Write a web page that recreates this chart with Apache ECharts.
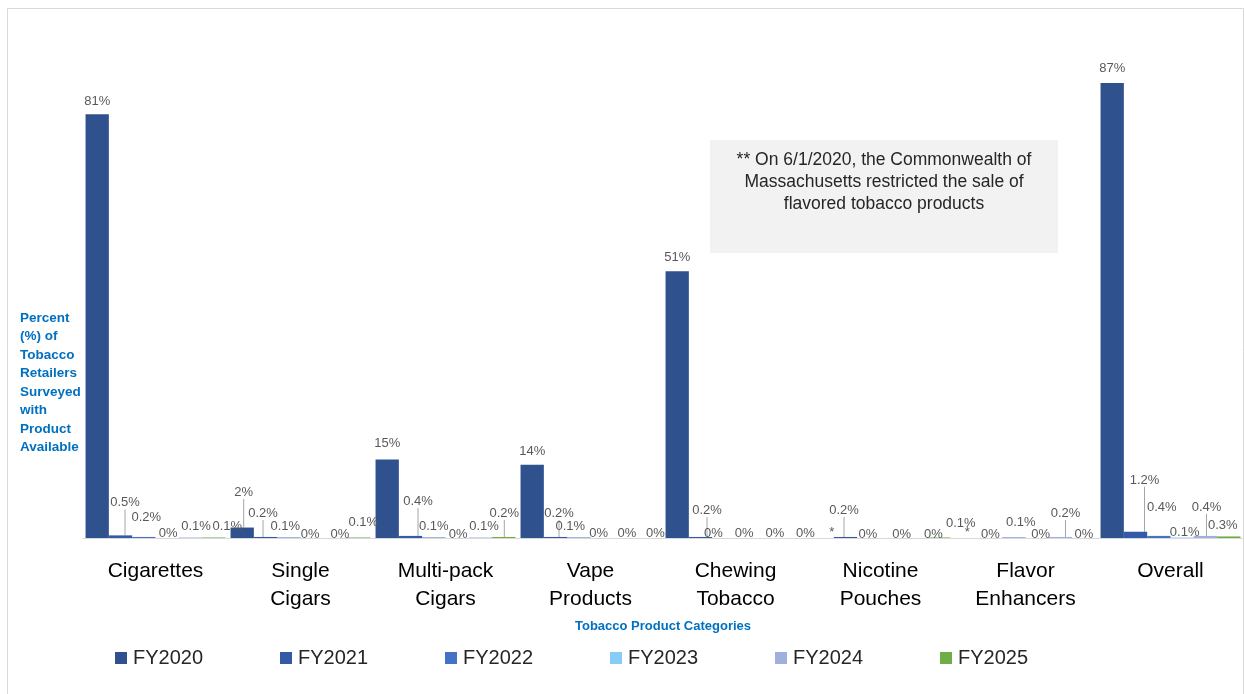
<!DOCTYPE html>
<html>
<head>
<meta charset="utf-8">
<script src="https://cdn.jsdelivr.net/npm/echarts@6/dist/echarts.min.js"></script>
<style>
html,body{margin:0;padding:0;background:#fff;}
#chart{width:1244px;height:694px;}
</style>
</head>
<body>
<div id="chart"></div>
<script>
const categories = ['Cigarettes', 'Single\nCigars', 'Multi-pack\nCigars', 'Vape\nProducts', 'Chewing\nTobacco', 'Nicotine\nPouches', 'Flavor\nEnhancers', 'Overall'];
const seriesNames = ['FY2020', 'FY2021', 'FY2022', 'FY2023', 'FY2024', 'FY2025'];
// '*' = suppressed value shown as asterisk
const fy2020 = [81, 2, 15, 14, 51, '*', '*', 87];
const fy2021 = [0.5, 0.2, 0.4, 0.2, 0.2, 0.2, 0, 1.2];
const fy2022 = [0.2, 0.1, 0.1, 0.1, 0, 0, 0.1, 0.4];
const fy2023 = [0, 0, 0, 0, 0, 0, 0, 0.1];
const fy2024 = [0.1, 0, 0.1, 0, 0, 0, 0.2, 0.4];
const fy2025 = [0.1, 0.1, 0.2, 0, 0, 0.1, 0, 0.3];
const seriesValues = [fy2020, fy2021, fy2022, fy2023, fy2024, fy2025];

const axisTitleY = 'Percent\n(%) of\nTobacco\nRetailers\nSurveyed\nwith\nProduct\nAvailable';
const axisTitleX = 'Tobacco Product Categories';
const noteText = '** On 6/1/2020, the Commonwealth of\nMassachusetts restricted the sale of\nflavored tobacco products';

// styling: colours, label nudges (dx, dy) and leader-line flags
const colors = ['#2F528F', '#3459A6', '#4472C4', '#87CBF8', '#9FB0DC', '#70AD47'];
const labelNudges = [
  [[0,-1],[1.5,-23.5],[0,-4.5],[0,-2],[0,-2],[9.5,6],[0,6],[0,-3]],
  [[4.5,-21],[-2.5,-12],[7.5,-23],[3.5,-12],[6.5,-15],[-1.5,-15],[0,8],[9,-40]],
  [[2.5,-8],[-3.5,0],[0,0],[-8.5,0],[-10.5,7],[-1,8],[7,-3.5],[3,-17]],
  [[1,7],[-2,8],[1,8],[-3.5,7],[-3,7],[9.5,8],[3.5,8],[2.5,6.5]],
  [[5.5,0],[4.5,8],[3.5,0],[1.5,7],[4.5,7],[18,8],[5,-12],[1,-17]],
  [[13.5,0],[4.5,-3.5],[0.5,-12],[6.5,7],[11.5,7],[22,-2.5],[0,8],[-6,0]]
];
const leaderFlags = [
  [0,1,0,0,0,0,0,0],
  [1,1,1,1,1,1,0,1],
  [0,0,0,0,0,0,0,0],
  [0,0,0,0,0,0,0,0],
  [0,0,0,0,0,0,1,1],
  [0,0,1,0,0,0,0,0]
];

const chart = echarts.init(document.getElementById('chart'));

const series = seriesNames.map((name, si) => ({
  name: name,
  type: 'bar',
  barGap: '0%',
  barCategoryGap: '3.5%',
  itemStyle: { color: colors[si] },
  label: {
    show: true,
    position: 'top',
    distance: 5,
    fontSize: 13,
    fontFamily: 'Liberation Sans, Arial, sans-serif',
    color: '#595959',
    formatter: (p) => p.data.star ? '*' : p.value + '%'
  },
  labelLine: { show: false, lineStyle: { color: '#A6A6A6', width: 1 } },
  labelLayout: (p) => {
    const o = labelNudges[si][p.dataIndex];
    return { dx: o[0], dy: o[1] };
  },
  data: seriesValues[si].map((v, ci) => {
    const item = v === '*' ? { value: 0, star: true } : { value: v };
    if (leaderFlags[si][ci]) item.labelLine = { show: true, lineStyle: { color: '#A6A6A6', width: 1 } };
    return item;
  })
}));

const legends = seriesNames.map((name, i) => ({
  data: [name],
  left: 115 + 165 * i,
  top: 648,
  icon: 'rect',
  itemWidth: 12,
  itemHeight: 12,
  itemGap: 0,
  padding: 0,
  textStyle: { fontSize: 20, color: '#262626', fontFamily: 'Liberation Sans Narrow, Liberation Sans, Arial, sans-serif', padding: [0, 0, 0, 1] }
}));

chart.setOption({
  animation: false,
  backgroundColor: '#ffffff',
  grid: { left: 83, right: 1, top: 15, bottom: 156, containLabel: false },
  legend: legends,
  xAxis: {
    type: 'category',
    data: categories,
    axisLine: { lineStyle: { color: '#D9D9D9', width: 1 } },
    axisTick: { show: false },
    axisLabel: { fontSize: 21, lineHeight: 28, color: '#000000', margin: 19, fontFamily: 'Liberation Sans, Arial, sans-serif', interval: 0 }
  },
  yAxis: {
    type: 'value',
    min: 0,
    max: 100,
    show: false,
    splitLine: { show: false }
  },
  graphic: [
    { type: 'rect', shape: { x: 7.5, y: 8.5, width: 1236, height: 700 }, style: { fill: 'none', stroke: '#D9D9D9', lineWidth: 1 }, silent: true },
    { type: 'rect', shape: { x: 710, y: 140, width: 348, height: 113 }, style: { fill: '#F2F2F2' }, z: 10 },
    { type: 'text', x: 884, y: 149, z: 11, style: { text: noteText, fontSize: 17.5, lineHeight: 22, fill: '#262626', align: 'center', verticalAlign: 'top', fontFamily: 'Liberation Sans Narrow, Liberation Sans, Arial, sans-serif' } },
    { type: 'text', x: 20, y: 309, z: 11, style: { text: axisTitleY, fontSize: 13.5, lineHeight: 18.5, fontWeight: 'bold', fill: '#0070C0', align: 'left', verticalAlign: 'top', fontFamily: 'Liberation Sans, Arial, sans-serif' } },
    { type: 'text', x: 663, y: 626, z: 11, style: { text: axisTitleX, fontSize: 13, fontWeight: 'bold', fill: '#0070C0', align: 'center', verticalAlign: 'middle', fontFamily: 'Liberation Sans Narrow, Liberation Sans, Arial, sans-serif' } }
  ],
  series: series
});
</script>
</body>
</html>
